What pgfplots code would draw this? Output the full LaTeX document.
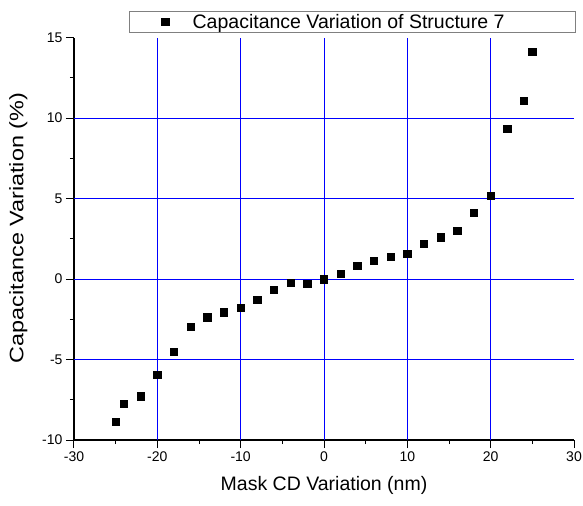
\documentclass[border=0pt]{standalone}
\usepackage{pgfplots}
\pgfplotsset{compat=1.18}
\usepackage{fontspec}
\setmainfont{Liberation Sans}
\pgfplotstableread{
x y
-25 -8.86
-24 -7.74
-22 -7.28
-20 -5.93
-18 -4.50
-16 -2.97
-14 -2.37
-12 -2.06
-10 -1.79
-8 -1.29
-6 -0.66
-4 -0.24
-2 -0.30
0 0.00
2 0.33
4 0.83
6 1.14
8 1.40
10 1.58
12 2.18
14 2.60
16 3.01
18 4.11
20 5.18
22 9.34
24 11.08
25 14.13
}\datatable
\begin{document}
\begin{tikzpicture}
\path[use as bounding box] (-74bp,-66bp) rectangle (509bp,440bp);
\begin{axis}[
  at={(0,0)}, anchor=south west,
  scale only axis, width=500bp, height=402.3bp,
  xmin=-30, xmax=30, ymin=-10, ymax=15,
  axis x line*=bottom, axis y line*=left,
  axis line style={line width=1.1bp, black, -},
  xtick={-30,-20,...,30}, ytick={-10,-5,...,15},
  minor x tick num=1, minor y tick num=1,
  tick align=outside,
  major tick length=8bp, minor tick length=4bp,
  every tick/.style={black, line width=1bp},
  /pgf/number format/assume math mode=true,
  tick label style={font=\fontsize{14bp}{16bp}\selectfont},
  extra x ticks={-20,-10,0,10,20},
  extra y ticks={-5,0,5,10},
  extra tick style={major tick length=0pt, grid=major, major grid style={blue, line width=0.8bp}},
  extra x tick labels={}, extra y tick labels={},
  xlabel={Mask CD Variation (nm)},
  ylabel={\scalebox{1.2}[1]{Capacitance Variation (\%)}},
  ylabel style={at={(ticklabel cs:0.527)}},
  label style={font=\fontsize{19.5bp}{22bp}\selectfont},
  legend style={at={(0.11,1)}, anchor=south west, yshift=4.4bp,
    draw={rgb,255:red,128;green,128;blue,128}, line width=1.3bp,
    inner xsep=0pt, inner ysep=2.8bp,
    nodes={inner sep=0pt, font=\fontsize{19.5bp}{22bp}\selectfont},
    column sep=0pt},
  legend image code/.code={\path (-35bp,0) (26.7bp,0); \draw[#1] plot coordinates {(0bp,0bp)};},
]
\addplot[only marks, mark=square*, mark size=3.65bp, black] table[x=x,y=y] {\datatable};
\addlegendentry{Capacitance Variation of Structure 7\hspace*{71bp}}
\end{axis}
\end{tikzpicture}
\end{document}
